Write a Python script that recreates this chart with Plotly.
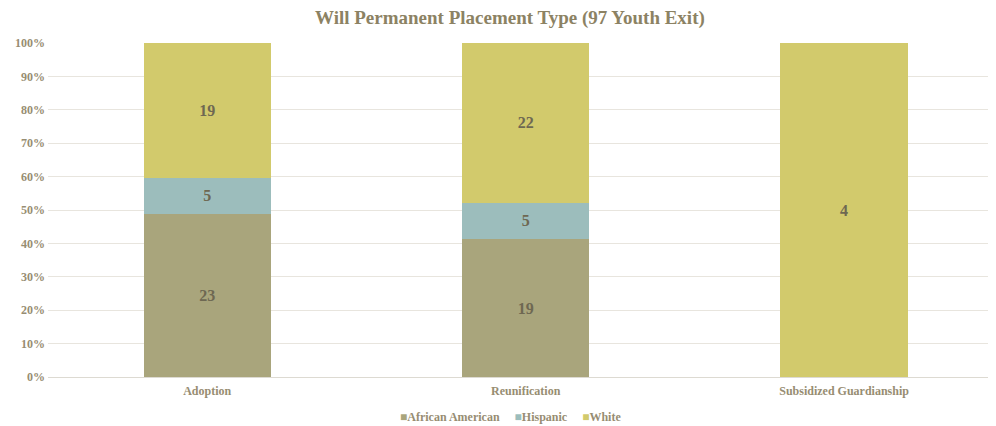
import plotly.graph_objects as go

categories = ["Adoption", "Reunification", "Subsidized Guardianship"]
african_american = [23, 19, 0]
hispanic = [5, 5, 0]
white = [19, 22, 4]
series_names = ["African American", "Hispanic", "White"]
y_ticks = [0, 10, 20, 30, 40, 50, 60, 70, 80, 90, 100]

colors = ["#A9A57C", "#9CBDBC", "#D2CA6C"]
FONT = "Liberation Serif"
label_color = "#6E6852"
tick_color = "#978D72"

fig = go.Figure()
for name, vals, col in zip(series_names, [african_american, hispanic, white], colors):
    fig.add_trace(go.Bar(
        x=categories, y=vals, name=name,
        marker=dict(color=col, line=dict(width=0)),
        text=[str(v) if v else "" for v in vals],
        textposition="inside", insidetextanchor="middle", textangle=0,
        constraintext="none",
        textfont=dict(family=FONT, size=16, color=label_color, weight="bold"),
        hoverinfo="skip",
    ))

# legend drawn as text with coloured squares
sp = "&nbsp;" * 5
legend_text = sp.join(
    f"<span style='color:{c}'>■</span><b>{n}</b>" for n, c in zip(series_names, colors)
)

fig.update_layout(
    barmode="stack", barnorm="percent", bargap=0.6,
    width=988, height=418,
    margin=dict(l=40, r=0, t=35, b=49),
    paper_bgcolor="white", plot_bgcolor="white",
    font=dict(family=FONT, color=tick_color, size=12),
    title=dict(text="<b>Will Permanent Placement Type (97 Youth Exit)</b>",
               x=0.508, xanchor="center", xref="container", y=0.978, yanchor="middle",
               font=dict(family=FONT, size=19, color="#8C8263")),
    showlegend=False,
    annotations=[dict(text=legend_text, x=0.488, y=-0.12, xref="paper", yref="paper",
                      xanchor="center", yanchor="middle", showarrow=False,
                      font=dict(family=FONT, size=12, color=tick_color))],
    xaxis=dict(range=[-0.5, 2.477], showgrid=False, showline=True, linecolor="#DDDAD2",
               linewidth=1, ticks="", ticklabelstandoff=3,
               tickfont=dict(family=FONT, size=12, color=tick_color, weight="bold")),
    yaxis=dict(range=[0, 100], tickvals=y_ticks, ticktext=[f"{v}%" for v in y_ticks],
               showgrid=True, gridcolor="#E8E5DE", gridwidth=1, zeroline=False,
               ticks="", ticklabelstandoff=2,
               tickfont=dict(family=FONT, size=12, color=tick_color, weight="bold")),
)

fig.write_html("out.html")
